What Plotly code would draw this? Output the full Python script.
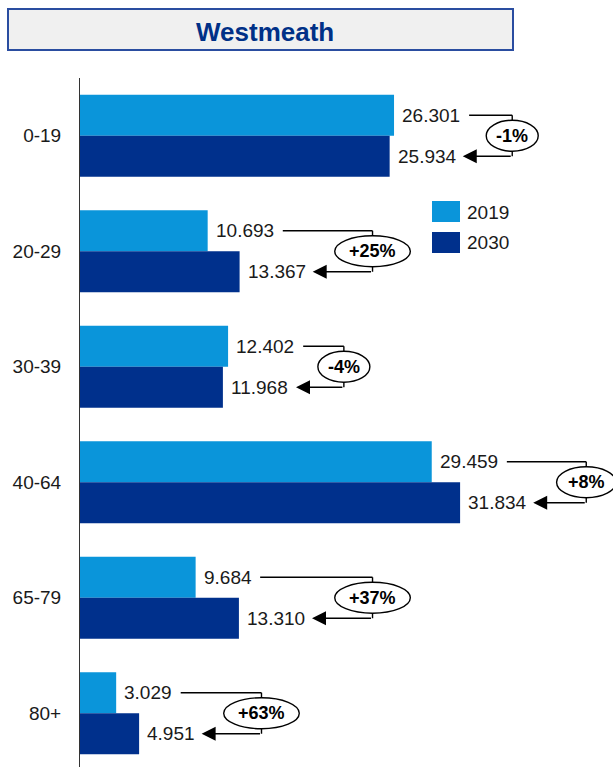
import plotly.graph_objects as go

# Population by age group, Westmeath (thousands)
age_groups = ["0-19", "20-29", "30-39", "40-64", "65-79", "80+"]
pop_2019 = [26.301, 10.693, 12.402, 29.459, 9.684, 3.029]
pop_2030 = [25.934, 13.367, 11.968, 31.834, 13.310, 4.951]
change_labels = ["-1%", "+25%", "-4%", "+8%", "+37%", "+63%"]
series_names = ["2019", "2030"]

# Horizontal position (x units) of each change bracket
bracket_pos = [36.2, 24.5, 22.1, 42.4, 24.5, 15.2]

C2019 = "#0A95DA"
C2030 = "#00308C"
TXT = "#1A1A1A"
FONT = "Arial, Liberation Sans, sans-serif"

W, H = 613, 767
ML, MT = 80, 78
plot_w = W - ML
plot_h = H - MT
X_MAX = 44.64
px_per_x = plot_w / X_MAX
band_px = 115.5
y_bottom = 5.5 - (6 * band_px - plot_h) / band_px

LBL_SIZE = 19
PCT_SIZE = 18
GROUP = 0.71
HALF = GROUP / 4  # offset of each bar centre from its category centre

CHAR_W = {".": 0.278, "+": 0.584, "-": 0.333, "%": 0.889}


def text_w(s, size):
    return sum(CHAR_W.get(c, 0.556) for c in s) * size


def px_to_x(px):
    return px / px_per_x


def paper_x(px):
    return (px - ML) / plot_w


def paper_y(py):
    return (H - py) / plot_h


idx = list(range(len(age_groups)))

fig = go.Figure()
fig.add_trace(go.Bar(y=idx, x=pop_2019, orientation="h", name=series_names[0],
                     marker=dict(color=C2019, line=dict(width=0)),
                     offsetgroup="a"))
fig.add_trace(go.Bar(y=idx, x=pop_2030, orientation="h", name=series_names[1],
                     marker=dict(color=C2030, line=dict(width=0)),
                     offsetgroup="b"))

shapes = []
annotations = []

for i, (v1, v2, lab, bx) in enumerate(zip(pop_2019, pop_2030, change_labels, bracket_pos)):
    y1 = i - HALF
    y2 = i + HALF
    s1 = f"{v1:.3f}"
    s2 = f"{v2:.3f}"
    # value labels
    for v, s, yy in ((v1, s1, y1), (v2, s2, y2)):
        annotations.append(dict(x=v, y=yy, xref="x", yref="y", text=s,
                                showarrow=False, xanchor="left", yanchor="middle",
                                xshift=6, font=dict(family=FONT, size=LBL_SIZE, color=TXT)))
    start1 = v1 + px_to_x(8 + text_w(s1, LBL_SIZE) + 9)
    tip2 = v2 + px_to_x(8 + text_w(s2, LBL_SIZE) + 7)
    # bracket: top horizontal and vertical
    shapes.append(dict(type="line", xref="x", yref="y", x0=start1, x1=bx, y0=y1, y1=y1,
                       line=dict(color="black", width=1.4), layer="above"))
    shapes.append(dict(type="line", xref="x", yref="y", x0=bx, x1=bx, y0=y1, y1=y2,
                       line=dict(color="black", width=1.4), layer="above"))
    # bottom arrow
    annotations.append(dict(x=tip2, y=y2, xref="x", yref="y", ax=bx, ay=y2,
                            axref="x", ayref="y", text="", showarrow=True,
                            arrowhead=2, arrowsize=2.0, arrowwidth=1.4,
                            arrowcolor="black", standoff=0, startstandoff=0))
    # ellipse with change label
    ew = text_w(lab, 17) * 1.72
    eh = 31
    shapes.append(dict(type="circle", xref="x", yref="y",
                       x0=bx - px_to_x(ew / 2), x1=bx + px_to_x(ew / 2),
                       y0=i - eh / 2 / band_px, y1=i + eh / 2 / band_px,
                       line=dict(color="black", width=1.4), fillcolor="white",
                       layer="above"))
    annotations.append(dict(x=bx, y=i, xref="x", yref="y", text=f"<b>{lab}</b>",
                            showarrow=False, xanchor="center", yanchor="middle",
                            font=dict(family=FONT, size=PCT_SIZE, color="black")))

# title box
shapes.append(dict(type="rect", xref="paper", yref="paper",
                   x0=paper_x(8), x1=paper_x(513), y0=paper_y(50), y1=paper_y(9),
                   line=dict(color="#2A4DA0", width=2), fillcolor="#F0F0F0",
                   layer="above"))
annotations.append(dict(x=paper_x(265), y=paper_y(32), xref="paper", yref="paper",
                        text="<b>Westmeath</b>", showarrow=False,
                        xanchor="center", yanchor="middle",
                        font=dict(family=FONT, size=26, color="#003087")))

# legend
for k, (name, col) in enumerate(zip(series_names, (C2019, C2030))):
    top = 201 + k * 31
    shapes.append(dict(type="rect", xref="paper", yref="paper",
                       x0=paper_x(432), x1=paper_x(460), y0=paper_y(top + 21), y1=paper_y(top),
                       line=dict(width=0), fillcolor=col, layer="above"))
    annotations.append(dict(x=paper_x(465), y=paper_y(top + 11), xref="paper", yref="paper",
                            text=name, showarrow=False, xanchor="left", yanchor="middle",
                            font=dict(family=FONT, size=LBL_SIZE, color=TXT)))

fig.update_layout(
    width=W, height=H,
    margin=dict(l=ML, r=0, t=MT, b=0),
    paper_bgcolor="white", plot_bgcolor="white",
    barmode="group", bargap=1 - GROUP, bargroupgap=0,
    showlegend=False,
    shapes=shapes, annotations=annotations,
    xaxis=dict(range=[0, X_MAX], visible=False, fixedrange=True),
    yaxis=dict(range=[y_bottom, -0.5], tickmode="array", tickvals=idx,
               ticktext=age_groups, showgrid=False, zeroline=False,
               showline=True, linecolor="#333333", linewidth=1,
               ticks="", ticklabelstandoff=14,
               tickfont=dict(family=FONT, size=19, color=TXT)),
)

fig.write_html("out.html")
